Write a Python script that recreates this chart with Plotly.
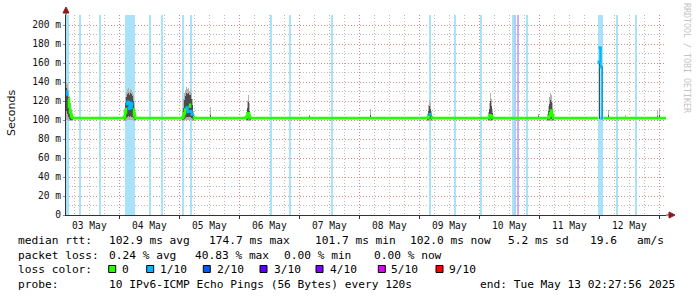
import pandas as pd
import plotly.graph_objects as go

# ---------------- data ----------------
START = pd.Timestamp("2025-05-03 02:27:56")
END = pd.Timestamp("2025-05-13 02:27:56")
STEP_MS = 24 * 60 * 1000          # one consolidated RRD step (24 min)

# median RTT (ms) at hours after START, with loss level (tenths)
med_hours = [0.0, 0.4, 0.8, 1.2, 1.6, 2.0, 2.4, 2.8,
             23.2, 23.6, 24.0, 24.4, 24.8, 25.2, 25.6, 26.0, 26.4, 26.8, 27.2, 27.6,
             46.8, 47.2, 47.6, 48.0, 48.4, 48.8, 49.2, 49.6, 50.0, 50.4, 50.8, 51.2,
             72.0, 72.4, 72.8, 73.2, 73.6,
             144.8, 145.2, 145.6, 146.0, 146.4,
             169.2, 169.6, 170.0, 170.4, 170.8,
             193.2, 193.6, 194.0, 194.4, 194.8,
             212.8, 213.2, 213.6, 214.0, 214.4, 215.0,
             240.0]
med_ms = [130, 127, 122, 114, 108, 104, 102.5, 102,
          103, 108, 113, 117, 119, 112, 118, 113, 117, 111, 105, 102,
          104, 107, 111, 113, 113, 109, 116, 113, 109, 106, 103, 102,
          103, 104, 107, 104, 102,
          103, 105, 106, 103, 102,
          104, 105, 104, 102.5, 102,
          104, 107, 110, 105, 102,
          102, 161, 176, 156, 102, 102,
          102]
med_loss = [1, 1, 0, 0, 0, 0, 0, 0,
            0, 0, 0, 1, 1, 1, 1, 1, 1, 0, 0, 0,
            0, 0, 0, 0, 1, 1, 0, 0, 1, 1, 0, 0,
            0, 0, 0, 0, 0,
            0, 0, 1, 0, 0,
            0, 0, 0, 0, 0,
            0, 0, 0, 0, 0,
            0, 1, 1, 1, 1, 0,
            0]

# smoke (spread of the individual pings), ms
smoke_hours = [0.0, 0.4, 0.8, 1.2, 1.6, 2.0, 2.4,
               23.2, 23.6, 24.0, 24.4, 24.8, 25.2, 25.6, 26.0, 26.4, 26.8, 27.2, 27.6,
               46.4, 46.8, 47.2, 47.6, 48.0, 48.4, 48.8, 49.2, 49.6, 50.0, 50.4, 50.8,
               72.0, 72.4, 72.8, 73.2, 73.6,
               57.6, 97.2, 121.6,
               144.4, 144.8, 145.2, 145.6, 146.0,
               168.8, 169.2, 169.6, 170.0, 170.4,
               188.8,
               192.4, 192.8, 193.2, 193.6, 194.0, 194.4, 194.8,
               213.2, 214.4,
               216.8, 223.6, 236.4, 237.2]
smoke_min = [100, 100, 99, 99, 99, 99, 99,
             99, 99, 99, 100, 100, 100, 100, 100, 100, 99, 99, 99,
             99, 99, 99, 100, 100, 100, 100, 100, 100, 100, 99, 99,
             99, 99, 99, 99, 99,
             101, 101, 101,
             99, 99, 99, 99, 99,
             99, 99, 99, 99, 99,
             101,
             99, 99, 99, 99, 99, 99, 99,
             101, 101,
             101, 101, 101, 101]
smoke_max = [140, 138, 132, 125, 118, 112, 107,
             112, 124, 130, 133, 134, 131, 133, 132, 130, 126, 118, 108,
             110, 122, 128, 132, 135, 133, 134, 131, 133, 128, 122, 110,
             108, 120, 126, 118, 106,
             114, 105, 112,
             106, 116, 121, 118, 110,
             108, 118, 128, 122, 112,
             106,
             106, 115, 124, 128, 126, 118, 106,
             162, 157,
             111, 105, 109, 112]
smoke_q_lo = [110, 106, 103, 101, 100, 100, 100,
              100, 101, 102, 103, 104, 103, 104, 103, 103, 102, 100, 100,
              100, 100, 101, 102, 103, 103, 103, 103, 103, 102, 101, 100,
              100, 100, 101, 100, 100,
              102, 102, 102,
              100, 100, 101, 101, 100,
              100, 100, 101, 100, 100,
              102,
              100, 100, 100, 101, 101, 100, 100,
              101, 101,
              102, 102, 102, 102]
smoke_q_hi = [134, 130, 124, 117, 111, 107, 104,
              107, 118, 124, 127, 128, 126, 128, 127, 125, 120, 112, 105,
              105, 113, 121, 125, 128, 127, 128, 126, 126, 122, 116, 105,
              105, 113, 119, 110, 103,
              105, 104, 105,
              103, 110, 115, 112, 105,
              104, 112, 120, 115, 107,
              104,
              103, 110, 117, 121, 119, 112, 103,
              161, 156,
              105, 103, 104, 105]

# loss background columns (hours after START, loss tenths)
loss_hours = [0.52, 0.92, 5.68, 13.68,
              24.08, 24.48, 24.88, 25.28, 25.68, 26.08, 26.48, 26.88, 27.28,
              33.6, 38.4, 47.0, 50.0, 82.12, 89.8, 106.52,
              145.8, 155.8, 166.0, 179.0, 179.8, 180.8, 184.6,
              213.4, 213.8, 214.2, 214.6, 220.52, 228.2]
loss_level = [1, 1, 1, 1,
              1, 1, 1, 1, 1, 1, 1, 1, 1,
              1, 1, 1, 1, 1, 1, 1,
              1, 1, 1, 1, 2, 3, 1,
              1, 1, 1, 1, 1, 1]

day_labels = ["03 May", "04 May", "05 May", "06 May", "07 May",
              "08 May", "09 May", "10 May", "11 May", "12 May"]
y_ticks = [0, 20, 40, 60, 80, 100, 120, 140, 160, 180, 200]
y_ticktext = ["0", "20 m", "40 m", "60 m", "80 m", "100 m",
              "120 m", "140 m", "160 m", "180 m", "200 m"]

loss_names = ["0", "1/10", "2/10", "3/10", "4/10", "5/10", "9/10"]
loss_colors = ["#26ff00", "#00b8ff", "#0059ff", "#5e00ff", "#7e00ff", "#dd00ff", "#ff0000"]
loss_bg = {1: "#a9e3f9", 2: "#b3cdfb", 3: "#c6b0fb"}

stats_rtt = ["median rtt:", "102.9 ms avg", "174.7 ms max", "101.7 ms min",
             "102.0 ms now", "5.2 ms sd", "19.6", "am/s"]
stats_loss = ["packet loss:", "0.24 % avg", "40.83 % max", "0.00 % min", "0.00 % now"]
probe_text = ["probe:", "10 IPv6-ICMP Echo Pings (56 Bytes) every 120s",
              "end: Tue May 13 02:27:56 2025"]

# ---------------- layout geometry ----------------
W, H = 697, 297
ML, MR, MT, MB = 66, 31, 15, 82
PW, PH = W - ML - MR, H - MT - MB
YMAX = 200 / 0.95


def px(x):
    return (x - ML) / PW


def py(y):
    return (MT + PH - y) / PH


def T(hours):
    return [START + pd.Timedelta(hours=h) for h in hours]


MONO = "DejaVu Sans Mono"
fig = go.Figure()

# loss background
for lvl in sorted(set(loss_level)):
    hs = [h for h, l in zip(loss_hours, loss_level) if l == lvl]
    fig.add_trace(go.Bar(x=T(hs), y=[YMAX] * len(hs), base=0, width=STEP_MS * 1.6,
                         marker=dict(color=loss_bg[lvl], line_width=0),
                         hoverinfo="skip", showlegend=False))

# smoke
fig.add_trace(go.Bar(x=T(smoke_hours), y=[b - a for a, b in zip(smoke_min, smoke_max)],
                     base=smoke_min, width=STEP_MS, offset=0,
                     marker=dict(color="#b2b2b2", line_width=0),
                     hoverinfo="skip", showlegend=False))
fig.add_trace(go.Bar(x=T(smoke_hours), y=[b - a for a, b in zip(smoke_q_lo, smoke_q_hi)],
                     base=smoke_q_lo, width=STEP_MS, offset=0,
                     marker=dict(color="#4c4c4c", line_width=0),
                     hoverinfo="skip", showlegend=False))

# median line, coloured by loss
times = T(med_hours)
for lvl in sorted(set(med_loss)):
    ys = [v if l == lvl else None for v, l in zip(med_ms, med_loss)]
    if lvl == 0:
        fig.add_trace(go.Scatter(x=times, y=ys, mode="lines", line_shape="hv",
                                 line=dict(color=loss_colors[0], width=2.6),
                                 connectgaps=False, hoverinfo="skip", showlegend=False))
    else:
        fig.add_trace(go.Scatter(x=times, y=ys, mode="lines+markers", line_shape="hv",
                                 line=dict(color=loss_colors[lvl], width=1.5),
                                 marker=dict(symbol="square", size=3, color=loss_colors[lvl]),
                                 connectgaps=False, hoverinfo="skip", showlegend=False))

midnights = [pd.Timestamp("2025-05-04") + pd.Timedelta(days=i) for i in range(10)]
noons = [pd.Timestamp("2025-05-03 12:00") + pd.Timedelta(days=i) for i in range(len(day_labels))]

grid_major = "#d88a8a"
grid_minor = "#bdbdbd"
fig.update_layout(
    width=W, height=H, margin=dict(l=ML, r=MR, t=MT, b=MB, autoexpand=False),
    paper_bgcolor="white", plot_bgcolor="white", barmode="overlay", bargap=0,
    showlegend=False,
    xaxis=dict(type="date", range=[START, END], tickmode="array", tickvals=midnights,
               ticktext=[""] * len(midnights), ticks="outside", ticklen=3,
               tickcolor="#333", showgrid=True, gridcolor=grid_major, griddash="1px,2px",
               gridwidth=1, showline=True, linecolor="#333", linewidth=1, zeroline=False,
               minor=dict(dtick=6 * 3600 * 1000, tick0="2025-05-03", showgrid=True,
                          gridcolor=grid_minor, griddash="1px,2px", gridwidth=1, ticks=""),
               fixedrange=True),
    yaxis=dict(range=[0, YMAX], tickmode="array", tickvals=y_ticks, ticktext=y_ticktext,
               ticks="outside", ticklen=2, tickcolor="#888",
               tickfont=dict(family=MONO, size=9.6, color="#111"),
               showgrid=True, gridcolor=grid_major, griddash="1px,2px", gridwidth=1,
               showline=True, linecolor="#333", linewidth=1, zeroline=False,
               minor=dict(dtick=10, showgrid=True, gridcolor=grid_minor,
                          griddash="1px,2px", gridwidth=1, ticks=""),
               fixedrange=True),
)

ann = []
# day labels
for t, lab in zip(noons, day_labels):
    ann.append(dict(x=t, y=py(225), xref="x", yref="paper", text=lab, showarrow=False,
                    xanchor="center", yanchor="middle",
                    font=dict(family=MONO, size=9.6, color="#111")))
# y title
ann.append(dict(x=px(11), y=py(113), xref="paper", yref="paper", text="Seconds",
                textangle=-90, showarrow=False, xanchor="center", yanchor="middle",
                font=dict(family="DejaVu Sans", size=11, color="#111")))
# watermark
ann.append(dict(x=px(687), y=py(58), xref="paper", yref="paper",
                text="RRDTOOL / TOBI OETIKER", textangle=90, showarrow=False,
                xanchor="center", yanchor="middle",
                font=dict(family=MONO, size=8.3, color="#c4c4c4")))


def text_row(items, xs, y):
    for s, x in zip(items, xs):
        ann.append(dict(x=px(x), y=py(y), xref="paper", yref="paper", text=s,
                        showarrow=False, xanchor="left", yanchor="middle",
                        font=dict(family=MONO, size=11.2, color="#000")))


text_row(stats_rtt, [16, 107, 207.3, 312.7, 407.7, 506, 588.3, 635], 241)
text_row(stats_loss, [16, 107, 192.7, 281.7, 372.3], 255.7)
text_row(["loss color:"], [16], 269)
sq_x = [108.7, 146.7, 203.3, 260, 316, 378.3, 436]
txt_x = [120, 158.3, 215, 271.7, 328.3, 389.3, 447.3]
text_row(loss_names, txt_x, 269)
text_row(probe_text, [16, 107, 478.3], 284)
fig.update_layout(annotations=ann)

shapes = []
for x0, c in zip(sq_x, loss_colors):
    shapes.append(dict(type="rect", xref="paper", yref="paper",
                       x0=px(x0), x1=px(x0 + 7), y0=py(272.5), y1=py(265.5),
                       fillcolor=c, line=dict(color="#000", width=1)))
# axis arrows
shapes.append(dict(type="line", xref="paper", yref="paper", x0=0, x1=0,
                   y0=1, y1=py(10), line=dict(color="#333", width=1)))
shapes.append(dict(type="path", xref="paper", yref="paper",
                   path=f"M {px(63)},{py(13)} L {px(69)},{py(13)} L {px(66)},{py(7)} Z",
                   fillcolor="#8b1a1a", line=dict(color="#8b1a1a", width=1)))
shapes.append(dict(type="line", xref="paper", yref="paper", x0=1, x1=px(670),
                   y0=0, y1=0, line=dict(color="#333", width=1)))
shapes.append(dict(type="path", xref="paper", yref="paper",
                   path=f"M {px(669)},{py(212)} L {px(669)},{py(218)} L {px(675)},{py(215)} Z",
                   fillcolor="#8b1a1a", line=dict(color="#8b1a1a", width=1)))
fig.update_layout(shapes=shapes)

fig.write_html("out.html")
